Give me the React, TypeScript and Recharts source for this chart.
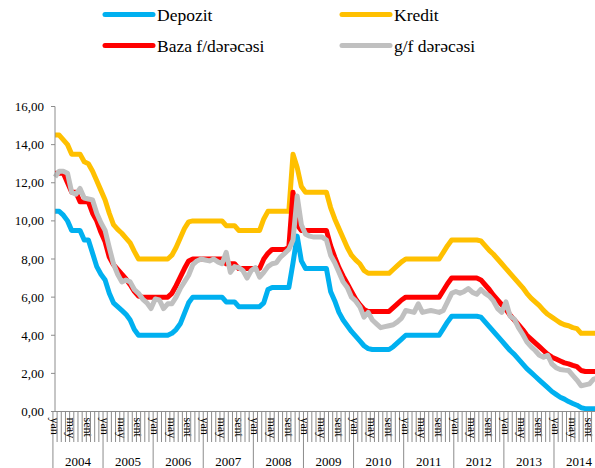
import { LineChart, Line, XAxis, YAxis } from "recharts";

const years = ["2004", "2005", "2006", "2007", "2008", "2009", "2010", "2011", "2012", "2013", "2014"];
const monthLabels = ["yan", "", "", "", "may", "", "", "", "sent", "", "", ""];
const yTicks = [0, 2, 4, 6, 8, 10, 12, 14, 16];

const depozit = [
  10.5, 10.5, 10.3, 10.0, 9.5, 9.5, 9.5, 9.0, 9.0, 8.3, 7.6, 7.2,
  6.9, 6.2, 5.7, 5.5, 5.3, 5.1, 4.8, 4.3, 4.0, 4.0, 4.0, 4.0,
  4.0, 4.0, 4.0, 4.0, 4.1, 4.3, 4.6, 5.15, 5.7, 6.0, 6.0, 6.0,
  6.0, 6.0, 6.0, 6.0, 6.0, 5.75, 5.75, 5.75, 5.5, 5.5, 5.5, 5.5,
  5.5, 5.5, 5.7, 6.4, 6.5, 6.5, 6.5, 6.5, 6.5, 7.8, 9.2, 7.9,
  7.5, 7.5, 7.5, 7.5, 7.5, 7.5, 6.3, 5.8, 5.2, 4.8, 4.5, 4.2,
  3.95, 3.7, 3.45, 3.3, 3.25, 3.25, 3.25, 3.25, 3.25, 3.4, 3.6, 3.8,
  4.0, 4.0, 4.0, 4.0, 4.0, 4.0, 4.0, 4.0, 4.0, 4.35, 4.7, 5.0,
  5.0, 5.0, 5.0, 5.0, 5.0, 5.0, 4.95, 4.7, 4.45, 4.2, 3.95, 3.7,
  3.45, 3.2, 3.0, 2.75, 2.5, 2.25, 2.05, 1.85, 1.65, 1.45, 1.25, 1.05,
  0.9, 0.75, 0.65, 0.52, 0.42, 0.33, 0.2, 0.15, 0.15, 0.15, 0.15, 0.15,
];

const kredit = [
  14.5, 14.5, 14.25, 14.0, 13.5, 13.5, 13.5, 13.1, 13.0, 12.6, 12.1, 11.6,
  11.1, 10.4, 9.8, 9.55, 9.35, 9.1, 8.85, 8.4, 8.0, 8.0, 8.0, 8.0,
  8.0, 8.0, 8.0, 8.0, 8.2, 8.6, 9.1, 9.6, 9.95, 10.0, 10.0, 10.0,
  10.0, 10.0, 10.0, 10.0, 10.0, 9.75, 9.75, 9.75, 9.5, 9.5, 9.5, 9.5,
  9.5, 9.5, 10.1, 10.5, 10.5, 10.5, 10.5, 10.5, 10.5, 13.5, 12.8, 11.8,
  11.5, 11.5, 11.5, 11.5, 11.5, 11.5, 10.7, 10.1, 9.6, 9.1, 8.6, 8.2,
  7.95, 7.75, 7.4, 7.25, 7.25, 7.25, 7.25, 7.25, 7.25, 7.45, 7.65, 7.85,
  8.0, 8.0, 8.0, 8.0, 8.0, 8.0, 8.0, 8.0, 8.0, 8.35, 8.7, 9.0,
  9.0, 9.0, 9.0, 9.0, 9.0, 9.0, 8.95, 8.7, 8.45, 8.25, 8.0, 7.75,
  7.5, 7.25, 7.0, 6.75, 6.5, 6.2, 5.95, 5.75, 5.55, 5.3, 5.1, 4.95,
  4.8, 4.65, 4.55, 4.5, 4.4, 4.35, 4.1, 4.1, 4.1, 4.1, 4.1, 4.1,
];

const baza = [
  12.5, 12.5, 12.5, 12.0, 11.5, 11.5, 11.0, 11.0, 11.0, 10.4, 10.0, 9.4,
  8.9, 8.1, 7.7, 7.45, 7.2, 6.95, 6.65, 6.3, 6.05, 6.0, 6.0, 6.0,
  6.0, 6.0, 6.0, 6.0, 6.2, 6.6, 7.05, 7.5, 7.9, 8.0, 8.0, 8.0,
  8.0, 8.0, 8.0, 8.0, 8.0, 7.75, 7.75, 7.75, 7.5, 7.5, 7.5, 7.5,
  7.5, 7.5, 8.0, 8.3, 8.5, 8.5, 8.5, 8.5, 8.6, 11.5, 9.8, 9.5,
  9.5, 9.5, 9.5, 9.5, 9.5, 9.5, 8.7, 8.1, 7.55, 7.1, 6.7, 6.3,
  5.9, 5.6, 5.35, 5.25, 5.25, 5.25, 5.25, 5.25, 5.25, 5.45, 5.65, 5.85,
  6.0, 6.0, 6.0, 6.0, 6.0, 6.0, 6.0, 6.0, 6.0, 6.35, 6.7, 7.0,
  7.0, 7.0, 7.0, 7.0, 7.0, 7.0, 6.9, 6.65, 6.4, 6.1, 5.85, 5.6,
  5.35, 5.05, 4.8, 4.55, 4.3, 4.0, 3.8, 3.6, 3.4, 3.2, 3.0, 2.85,
  2.75, 2.65, 2.55, 2.5, 2.42, 2.35, 2.15, 2.1, 2.1, 2.1, 2.1, 2.1,
];

const gf = [
  12.3, 12.6, 12.6, 12.5, 11.5, 11.4, 11.7, 11.2, 11.15, 11.1, 10.4, 9.9,
  9.5, 8.6, 7.75, 7.2, 6.8, 6.9, 6.8, 6.4, 6.2, 5.9, 5.7, 5.4,
  5.9, 5.85, 5.4, 5.65, 5.65, 6.0, 6.45, 6.8, 7.15, 7.7, 7.9, 8.0,
  7.95, 7.9, 8.0, 7.85, 7.75, 8.35, 7.3, 7.6, 7.55, 7.4, 7.0, 7.4,
  7.55, 7.05, 7.3, 7.6, 7.75, 7.8, 8.1, 8.3, 8.5, 9.0, 11.3, 9.8,
  9.3, 9.2, 9.15, 9.15, 9.15, 9.0, 8.2, 7.8, 7.3, 6.8, 6.5, 6.0,
  5.8, 5.5, 4.95, 5.2, 4.8, 4.6, 4.4, 4.45, 4.5, 4.55, 4.7, 4.9,
  5.3, 5.25, 5.2, 5.65, 5.2, 5.25, 5.3, 5.25, 5.2, 5.3, 5.75, 6.2,
  6.3, 6.2, 6.3, 6.45, 6.25, 6.15, 6.4, 6.2, 6.05, 5.8, 5.4, 5.2,
  5.75, 5.0, 4.85, 4.4, 4.05, 3.65, 3.4, 3.2, 2.95, 2.85, 2.95, 2.5,
  2.3, 2.2, 2.17, 2.15, 1.9, 1.65, 1.35, 1.4, 1.45, 1.7, 1.75, 1.8,
];

const series = [
  { key: "depozit", name: "Depozit", color: "#00B0F0" },
  { key: "kredit", name: "Kredit", color: "#FFC000" },
  { key: "baza", name: "Baza f/dərəcəsi", color: "#FF0000" },
  { key: "gf", name: "g/f dərəcəsi", color: "#C0C0C0" },
];

const data = depozit.map((d, i) => ({
  idx: i,
  depozit: d,
  kredit: kredit[i],
  baza: baza[i],
  gf: gf[i],
}));

const FONT = "'Liberation Serif', 'Times New Roman', serif";
const AXIS_GREY = "#8c8c8c";
const CHART_W = 602;
const LEFT = 55;
const AXIS_Y = 411.5;
// month band width, the plot runs a few px past the right edge (Dec 2014 is cut off)
const BAND = (CHART_W - LEFT) / data.length;

function MonthTick(props: any) {
  const { x, payload } = props;
  const i = payload.value as number;
  const m = i % 12;
  const left = x - BAND / 2;
  const label = monthLabels[m];
  return (
    <g>
      <line x1={left} x2={left} y1={AXIS_Y} y2={m === 0 ? 468 : 442} stroke={AXIS_GREY} strokeWidth={1} />
      {label && (
        <text
          transform={`translate(${x},${AXIS_Y + 6}) rotate(90)`}
          dy="0.35em"
          fontSize={12}
          style={{ fontFamily: FONT }}
          fill="#000"
        >
          {label}
        </text>
      )}
      {m === 6 && (
        <text x={left} y={466} textAnchor="middle" fontSize={13} style={{ fontFamily: FONT }} fill="#000">
          {years[Math.floor(i / 12)]}
        </text>
      )}
    </g>
  );
}

function Legend() {
  return (
    <svg width={595} height={60} style={{ position: "absolute", left: 0, top: 0 }}>
      {series.map((s, i) => {
        const col = i % 2;
        const row = Math.floor(i / 2);
        const x1 = col === 0 ? 105 : 342;
        const y = row === 0 ? 14.5 : 45.5;
        return (
          <g key={s.key}>
            <line x1={x1} x2={x1 + 48} y1={y} y2={y} stroke={s.color} strokeWidth={5} strokeLinecap="round" />
            <text x={x1 + 52} y={y + 6.5} fontSize={17.5} style={{ fontFamily: FONT }} fill="#000">
              {s.name}
            </text>
          </g>
        );
      })}
    </svg>
  );
}

export default function App() {
  return (
    <div style={{ position: "absolute", left: 0, top: 0, width: 595, height: 468, overflow: "hidden", background: "#fff", fontFamily: FONT }}>
      <LineChart width={CHART_W} height={468} data={data} margin={{ top: 106.5, right: 0, bottom: 0, left: 0 }}>
        <XAxis
          dataKey="idx"
          type="category"
          interval={0}
          height={56.5}
          tick={<MonthTick />}
          tickLine={false}
          axisLine={{ stroke: AXIS_GREY }}
        />
        <YAxis
          domain={[0, 16]}
          ticks={yTicks}
          width={LEFT}
          tickFormatter={(v: number) => v.toFixed(2).replace(".", ",")}
          axisLine={{ stroke: AXIS_GREY }}
          tickLine={{ stroke: AXIS_GREY }}
          tickSize={4}
          tickMargin={7}
          tick={{ fill: "#000", fontSize: 13, style: { fontFamily: FONT } }}
        />
        {series.map((s) => (
          <Line
            key={s.key}
            dataKey={s.key}
            type="linear"
            stroke={s.color}
            strokeWidth={5}
            strokeLinejoin="round"
            dot={false}
            activeDot={false}
            isAnimationActive={false}
          />
        ))}
      </LineChart>
      <Legend />
    </div>
  );
}
